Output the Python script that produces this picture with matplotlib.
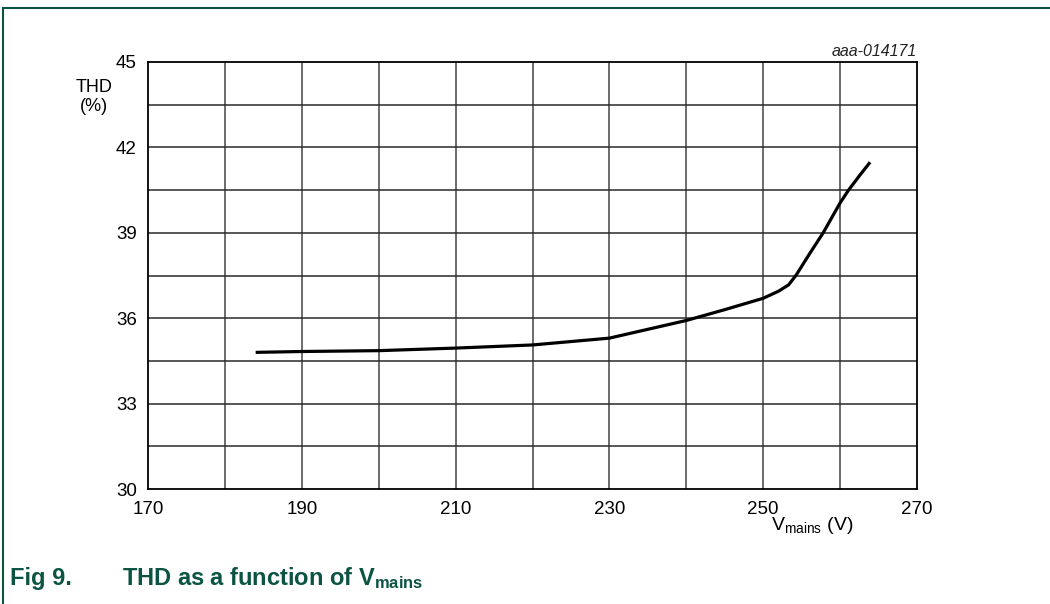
import matplotlib
matplotlib.use("Agg")
import matplotlib.pyplot as plt
from matplotlib.lines import Line2D

plt.rcParams["font.family"] = ["Liberation Sans", "DejaVu Sans"]
plt.rcParams["mathtext.fontset"] = "custom"
plt.rcParams["mathtext.rm"] = "Liberation Sans"
plt.rcParams["mathtext.it"] = "Liberation Sans:italic"
plt.rcParams["mathtext.bf"] = "Liberation Sans:bold"

# THD versus mains voltage
v_mains = [184, 190, 200, 210, 220, 230, 240, 245, 250, 252, 253.3,
           254.3, 256, 257.8, 260, 261.1, 262.5, 263.9]
thd = [34.80, 34.83, 34.86, 34.95, 35.06, 35.30, 35.92, 36.30, 36.70,
       36.95, 37.17, 37.52, 38.25, 39.00, 40.05, 40.50, 41.00, 41.48]

x_ticks = [170, 190, 210, 230, 250, 270]
y_ticks = [30, 33, 36, 39, 42, 45]

green = "#0b5443"

fig = plt.figure(figsize=(10.5, 6.04), dpi=100)
ax = fig.add_axes([148 / 1050, 1 - 489 / 604, 769 / 1050, 427 / 604])

ax.set_xlim(170, 270)
ax.set_ylim(30, 45)

# grid every 10 V and every 1.5 %
for xv in range(180, 270, 10):
    ax.axvline(xv, color="#444444", lw=1.1, zorder=1)
for i in range(1, 10):
    ax.axhline(30 + 1.5 * i, color="#2a2a2a", lw=1.1, zorder=1)

ax.plot(v_mains, thd, color="black", lw=2.3, solid_capstyle="butt", zorder=3)

ax.set_xticks(x_ticks)
ax.set_yticks(y_ticks)
ax.tick_params(length=0, labelsize=13.5)
ax.tick_params(axis="y", pad=8)
ax.tick_params(axis="x", pad=9)
for s in ax.spines.values():
    s.set_color("black")
    s.set_linewidth(1.3)

fig.text(94 / 1050, 1 - 97 / 604, "THD\n(%)", ha="center", va="center",
         fontsize=13, linespacing=1.1)
fig.text(917 / 1050, 1 - 52 / 604, "aaa-014171", ha="right", va="center",
         fontsize=11.5, style="italic", color="#222222")
fig.text(771 / 1050, 1 - 530 / 604, r"V$_{\mathrm{mains}}$ (V)", ha="left",
         va="baseline", fontsize=14)

fig.text(10 / 1050, 1 - 578 / 604, "Fig 9.", ha="left", va="center",
         fontsize=17, fontweight="bold", color=green)
fig.text(122 / 1050, 1 - 578 / 604, r"THD as a function of V$_{\mathbf{mains}}$",
         ha="left", va="center", fontsize=17, fontweight="bold", color=green)

# page frame: top and left rules
fig.add_artist(Line2D([3 / 1050, 1], [1 - 8 / 604, 1 - 8 / 604],
                      transform=fig.transFigure, color=green, lw=1.5))
fig.add_artist(Line2D([3 / 1050, 3 / 1050], [0, 1 - 8 / 604],
                      transform=fig.transFigure, color=green, lw=1.5))

fig.savefig("out.png", dpi=100)
